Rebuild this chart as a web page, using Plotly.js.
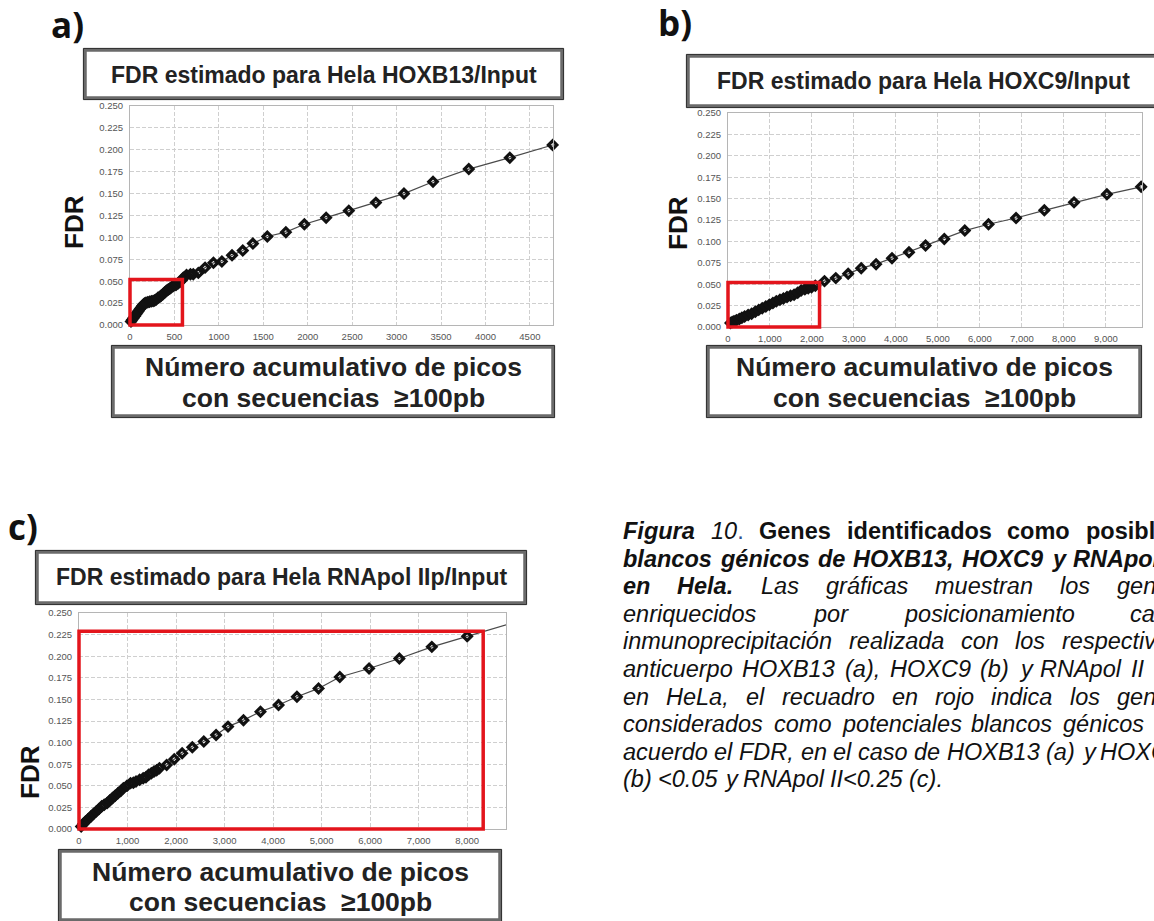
<!DOCTYPE html>
<html><head><meta charset="utf-8">
<script src="https://cdn.plot.ly/plotly-3.0.1.min.js"></script>
<style>html,body{margin:0;padding:0;background:#fff;overflow:hidden}#chart{width:1154px;height:921px}</style>
</head><body><div id="chart"></div>
<script>
// ================= DATA =================
// a) HOXB13/Input : cumulative peaks vs FDR
const hoxb13Peaks = [11,25,40,55,68,82,96,110,125,140,152,163,180,200,220,240,260,277,295,315,333,350,370,390,410,430,447,465,485,504,520,540,560,580,600,636,680,712,769,845,939,1034,1148,1269,1383,1545,1754,1962,2207,2462,2767,3083,3410,3812,4274,4756];
const hoxb13FDR = [0.004,0.006,0.008,0.010,0.012,0.014,0.016,0.018,0.020,0.022,0.0235,0.0246,0.0255,0.026,0.0265,0.027,0.0275,0.028,0.029,0.031,0.032,0.0335,0.035,0.037,0.039,0.0405,0.0415,0.043,0.0445,0.0455,0.046,0.0475,0.049,0.051,0.054,0.057,0.058,0.058,0.0595,0.0655,0.071,0.0725,0.0795,0.085,0.093,0.101,0.106,0.115,0.1225,0.1305,0.1397,0.150,0.1636,0.178,0.191,0.2055];
// b) HOXC9/Input
const hoxc9Peaks = [59,100,143,200,269,330,396,480,564,650,732,815,901,985,1069,1150,1237,1320,1406,1490,1574,1660,1742,1830,1911,1990,2079,2298,2567,2862,3173,3527,3906,4310,4705,5152,5640,6204,6860,7534,8241,9024,9840];
const hoxc9FDR = [0.0047,0.0058,0.0066,0.0078,0.0093,0.0108,0.0124,0.014,0.0155,0.0178,0.020,0.022,0.024,0.026,0.028,0.030,0.0318,0.0334,0.035,0.0365,0.0377,0.040,0.0427,0.0440,0.0454,0.0465,0.0481,0.0536,0.0571,0.0621,0.0687,0.0734,0.0804,0.0873,0.0951,0.1029,0.1126,0.120,0.1273,0.1363,0.1456,0.155,0.1638];
// c) RNApol IIp/Input
const rnapolPeaks = [45,90,134,190,245,300,357,410,468,520,580,635,691,745,803,860,914,990,1063,1120,1175,1250,1323,1380,1435,1490,1546,1600,1658,1807,1963,2126,2335,2572,2825,3071,3390,3740,4112,4491,4937,5375,5978,6602,7271,8000,8818];
const rnapolFDR = [0.003,0.006,0.0088,0.0115,0.0146,0.0175,0.0204,0.023,0.0262,0.028,0.030,0.033,0.0358,0.0385,0.0415,0.044,0.0473,0.050,0.0531,0.0535,0.055,0.057,0.0588,0.060,0.0627,0.0645,0.0665,0.068,0.0704,0.0742,0.0808,0.0877,0.0946,0.1012,0.1088,0.1185,0.126,0.1358,0.1435,0.153,0.1627,0.176,0.1858,0.1973,0.2108,0.223,0.2365];

// red "selected" regions: [max peaks, max FDR]
const cutA = [590, 0.052];
const cutB = [2180, 0.052];
const cutC = [8330, 0.229];

const panelTitles = ['FDR estimado para Hela HOXB13/Input','FDR estimado para Hela HOXC9/Input','FDR estimado para Hela RNApol IIp/Input'];
const panelLetters = ['a)','b)','c)'];
const xLabelLines = ['Número acumulativo de picos','con secuencias\u00a0 ≥100pb'];
const yLabelText = 'FDR';

const captionLines = [
  {j:true, w:[['Figura','bi'],['10.','i','<i>10</i><span style="color:#2f4f8f">.</span>'],['Genes','b'],['identificados','b'],['como','b'],['posibles','b']]},
  {j:true, w:'blancos génicos de HOXB13, HOXC9 y RNApol II'.split(' ').map(t=>[t,'bi'])},
  {j:true, w:[['en','bi'],['Hela.','bi']].concat('Las gráficas muestran los genes'.split(' ').map(t=>[t,'i']))},
  {j:true, w:'enriquecidos por posicionamiento cada'.split(' ').map(t=>[t,'i'])},
  {j:true, w:'inmunoprecipitación realizada con los respectivos'.split(' ').map(t=>[t,'i'])},
  {j:true, w:'anticuerpo HOXB13 (a), HOXC9 (b) y RNApol II (c)'.split(' ').map(t=>[t,'i'])},
  {j:true, w:'en HeLa, el recuadro en rojo indica los genes'.split(' ').map(t=>[t,'i'])},
  {j:true, w:'considerados como potenciales blancos génicos de'.split(' ').map(t=>[t,'i'])},
  {j:true, w:'acuerdo el FDR, en el caso de HOXB13 (a) y HOXC9'.split(' ').map(t=>[t,'i'])},
  {j:false, w:'(b) <0.05 y RNApol II<0.25 (c).'.split(' ').map(t=>[t,'i'])}
];

// ================= LAYOUT HELPERS =================
const W = 1154, H = 921;
const px = x => x / W;
const py = y => 1 - y / H;
const FONT = 'Liberation Sans, Arial, sans-serif';

const panels = [
  {plot:[130,553,106,325], xr:[0,4760], dt:500, fmt:'d', tbox:[85,562,50,98], ty:75, lbox:[113,553,347,416], ly:[367,398], letter:[67,24], fdr:[74,222]},
  {plot:[728,1142,113,327], xr:[0,9860], dt:1000, fmt:',d', tbox:[688,1158,56,106], ty:81, lbox:[708,1140,347,416], ly:[367,398], letter:[675,22], fdr:[678,223]},
  {plot:[79,506,613,829], xr:[0,8800], dt:1000, fmt:',d', tbox:[37,525,552,603], ty:577, lbox:[60,500,851,920], ly:[872,902], letter:[23,526], fdr:[30,772]}
];

const layout = {
  width: W, height: H, autosize:false,
  margin:{l:0,r:0,t:0,b:0},
  paper_bgcolor:'#fff', plot_bgcolor:'#fff',
  showlegend:false,
  font:{family:FONT, color:'#222'},
  shapes:[], annotations:[]
};

const series = [[hoxb13Peaks,hoxb13FDR],[hoxc9Peaks,hoxc9FDR],[rnapolPeaks,rnapolFDR]];
const cuts = [cutA,cutB,cutC];
const traces = [];

panels.forEach((p,i)=>{
  const sfx = i===0 ? '' : String(i+1);
  const xd = [px(p.plot[0]), px(p.plot[1])];
  const yd = [py(p.plot[3]), py(p.plot[2])];
  const common = {showline:true, mirror:true, linecolor:'#b5b5b5', linewidth:1,
    showgrid:true, gridcolor:'#cfcfcf', gridwidth:1, griddash:'4px,2px', zeroline:false,
    ticks:'', tickfont:{family:FONT, size:9.5, color:'#555'}, fixedrange:true};
  layout['xaxis'+sfx] = Object.assign({}, common, {domain:xd, range:p.xr, dtick:p.dt, tick0:0, tickformat:p.fmt, anchor:'y'+sfx, ticklabelstandoff:3});
  layout['yaxis'+sfx] = Object.assign({}, common, {domain:yd, range:[0,0.25], dtick:0.025, tick0:0, tickformat:'.3f', anchor:'x'+sfx, ticklabelstandoff:4});

  traces.push({type:'scatter', mode:'lines+markers', x:series[i][0], y:series[i][1],
    xaxis:'x'+sfx, yaxis:'y'+sfx, cliponaxis:false,
    line:{color:'#4a4a4a', width:1.2},
    marker:{symbol:'diamond-open', size:6.5, color:'#111', line:{width:3.2, color:'#111'}},
    hoverinfo:'skip'});

  // red cut-off box (data -> paper)
  const mx = v => xd[0] + (v - p.xr[0])/(p.xr[1]-p.xr[0])*(xd[1]-xd[0]);
  const my = v => yd[0] + v/0.25*(yd[1]-yd[0]);
  layout.shapes.push({type:'rect', xref:'paper', yref:'paper', x0:mx(0), x1:mx(cuts[i][0]), y0:my(0), y1:my(cuts[i][1]),
    line:{color:'#e3151c', width:3.5}, fillcolor:'rgba(0,0,0,0)', layer:'above'});

  // framed boxes
  [p.tbox, p.lbox].forEach(b=>{
    layout.shapes.push({type:'rect', xref:'paper', yref:'paper', x0:px(b[0]), x1:px(b[1]), y0:py(b[3]), y1:py(b[2]),
      line:{color:'#6a6a6a', width:3.5}, fillcolor:'rgba(0,0,0,0)', layer:'above'});
    layout.shapes.push({type:'rect', xref:'paper', yref:'paper', x0:px(b[0]-1.6), x1:px(b[1]+1.6), y0:py(b[3]+1.6), y1:py(b[2]-1.6),
      line:{color:'#2a2a2a', width:1}, fillcolor:'rgba(0,0,0,0)', layer:'above'});
  });

  layout.annotations.push({xref:'paper', yref:'paper', x:px((p.tbox[0]+p.tbox[1])/2), y:py(p.ty), xanchor:'center', yanchor:'middle',
    text:'<b>'+panelTitles[i]+'</b>', showarrow:false, font:{family:FONT, size:23, color:'#222'}});
  xLabelLines.forEach((t,k)=>{
    layout.annotations.push({xref:'paper', yref:'paper', x:px((p.lbox[0]+p.lbox[1])/2), y:py(p.ly[k]), xanchor:'center', yanchor:'middle',
      text:'<b>'+t+'</b>', showarrow:false, font:{family:FONT, size:26.5, color:'#222'}});
  });
  layout.annotations.push({xref:'paper', yref:'paper', x:px(p.fdr[0]), y:py(p.fdr[1]), xanchor:'center', yanchor:'middle',
    text:'<b>'+yLabelText+'</b>', textangle:-90, showarrow:false, font:{family:FONT, size:26, color:'#111'}});
  layout.annotations.push({xref:'paper', yref:'paper', x:px(p.letter[0]), y:py(p.letter[1]), xanchor:'center', yanchor:'middle',
    text:'<b>'+panelLetters[i]+'</b>', showarrow:false, font:{family:'Open Sans, sans-serif', size:35, color:'#111'}});
});

// ================= CAPTION (justified) =================
const capSize = 23.5, capL = 622, capR = 1180, capY0 = 531, capDy = 27.6;
const ctx = document.createElement('canvas').getContext('2d');
const fontStr = s => (s.includes('i')?'italic ':'') + (s.includes('b')?'bold ':'') + capSize + 'px "Liberation Sans"';
const measure = (t,s) => { ctx.font = fontStr(s); return ctx.measureText(t).width; };
const esc = t => t.replace(/&/g,'&amp;').replace(/</g,'&lt;').replace(/>/g,'&gt;');
const wrap = (t,s) => { let h = esc(t); if (s.includes('i')) h = '<i>'+h+'</i>'; if (s.includes('b')) h = '<b>'+h+'</b>'; return h; };

captionLines.forEach((ln,li)=>{
  const widths = ln.w.map(w=>measure(w[0], w[1]));
  const total = widths.reduce((a,b)=>a+b,0);
  const n = ln.w.length;
  const gap = ln.j && n>1 ? Math.max(measure(' ','i')*0.85, (capR - capL - total)/(n-1)) : measure(' ','i');
  let x = capL;
  ln.w.forEach((w,k)=>{
    layout.annotations.push({xref:'paper', yref:'paper', x:px(x), y:py(capY0 + li*capDy), xanchor:'left', yanchor:'middle',
      text: w[2] || wrap(w[0], w[1]), showarrow:false, borderpad:0,
      font:{family:FONT, size:capSize, color:'#111'}});
    x += widths[k] + gap;
  });
});

Plotly.newPlot('chart', traces, layout, {displayModeBar:false, staticPlot:true});
</script>
</body></html>
